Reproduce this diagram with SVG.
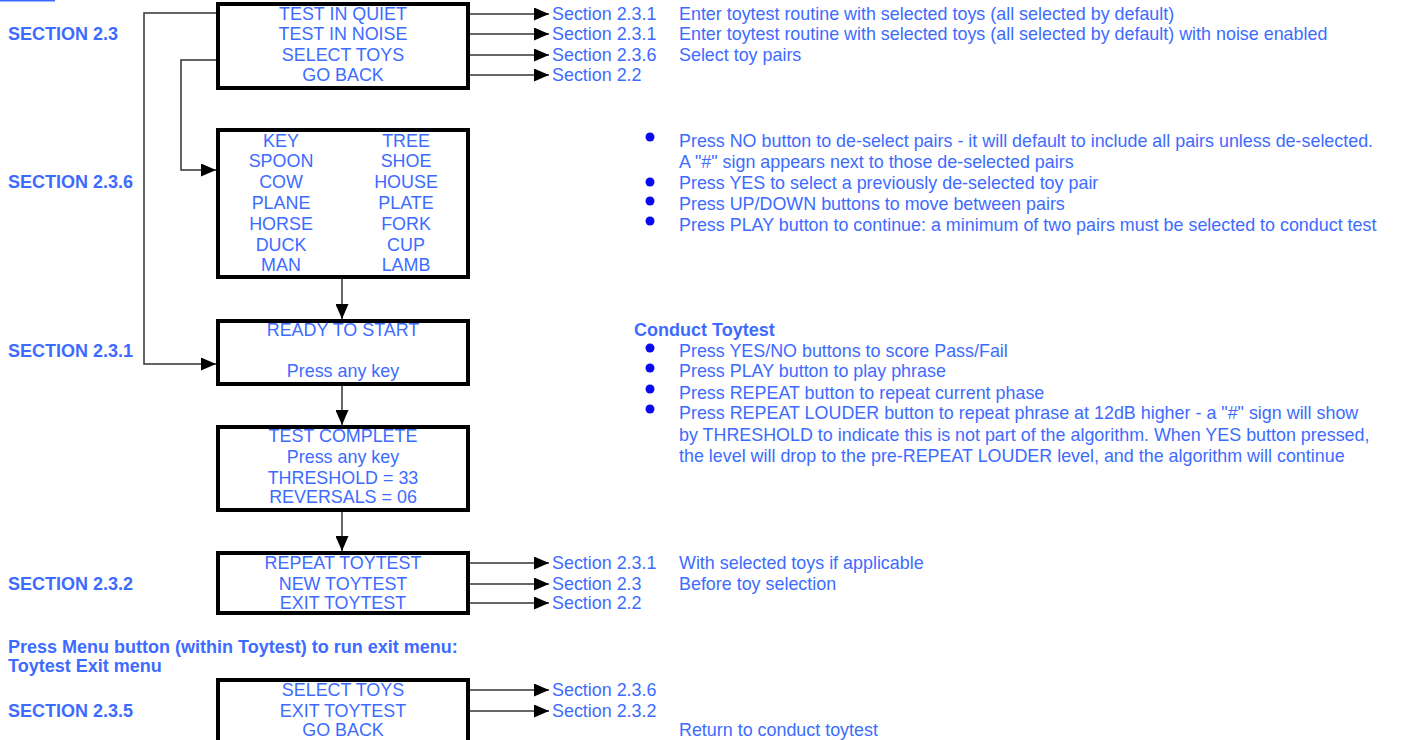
<svg xmlns="http://www.w3.org/2000/svg" width="1402" height="740" viewBox="0 0 1402 740">
<style>
text{font-family:"Liberation Sans",Arial,sans-serif;fill:#3d6bff;font-size:17.9px}
.b{font-weight:bold;font-size:18px}
.c{text-anchor:middle}
.box{fill:#fff;stroke:#000;stroke-width:4}
.ln{fill:none;stroke:#333;stroke-width:1.5}
.dot{fill:#0a0af0}
</style>
<defs>
<marker id="ah" markerUnits="userSpaceOnUse" markerWidth="15" markerHeight="13" refX="15" refY="6.5" orient="auto">
<path d="M0,0 L15,6.5 L0,13 z" fill="#000"/>
</marker>
</defs>
<rect x="0" y="0" width="55" height="1.5" fill="#3d6bff"/>
<g id="connectors">
<path class="ln" d="M217,13 H144 V364 H216" marker-end="url(#ah)"/>
<path class="ln" d="M217,60 H181 V170 H216" marker-end="url(#ah)"/>
<path class="ln" d="M470,14 H549" marker-end="url(#ah)"/>
<path class="ln" d="M470,34 H549" marker-end="url(#ah)"/>
<path class="ln" d="M470,55 H549" marker-end="url(#ah)"/>
<path class="ln" d="M470,75 H549" marker-end="url(#ah)"/>
<path class="ln" d="M342,279 V319" marker-end="url(#ah)"/>
<path class="ln" d="M342,386 V425" marker-end="url(#ah)"/>
<path class="ln" d="M342,512 V551" marker-end="url(#ah)"/>
<path class="ln" d="M470,563 H549" marker-end="url(#ah)"/>
<path class="ln" d="M470,584 H549" marker-end="url(#ah)"/>
<path class="ln" d="M470,603 H549" marker-end="url(#ah)"/>
<path class="ln" d="M470,690 H549" marker-end="url(#ah)"/>
<path class="ln" d="M470,711 H549" marker-end="url(#ah)"/>
</g>
<g id="labels">
<text class="b" x="8" y="40">SECTION 2.3</text>
<text class="b" x="8" y="188">SECTION 2.3.6</text>
<text class="b" x="8" y="357">SECTION 2.3.1</text>
<text class="b" x="8" y="590">SECTION 2.3.2</text>
<text class="b" x="8" y="717">SECTION 2.3.5</text>
<text class="b" x="8" y="653">Press Menu button (within Toytest) to run exit menu:</text>
<text class="b" x="8" y="672">Toytest Exit menu</text>
</g>
<g id="node-main-menu">
<rect class="box" x="218" y="4" width="250" height="84"/>
<text class="c" x="343" y="20">TEST IN QUIET</text>
<text class="c" x="343" y="40">TEST IN NOISE</text>
<text class="c" x="343" y="61">SELECT TOYS</text>
<text class="c" x="343" y="81">GO BACK</text>
</g>
<g id="node-toys">
<rect class="box" x="218" y="130" width="250" height="147"/>
<text class="c" x="281" y="147">KEY</text><text class="c" x="406" y="147">TREE</text>
<text class="c" x="281" y="167">SPOON</text><text class="c" x="406" y="167">SHOE</text>
<text class="c" x="281" y="188">COW</text><text class="c" x="406" y="188">HOUSE</text>
<text class="c" x="281" y="209">PLANE</text><text class="c" x="406" y="209">PLATE</text>
<text class="c" x="281" y="230">HORSE</text><text class="c" x="406" y="230">FORK</text>
<text class="c" x="281" y="251">DUCK</text><text class="c" x="406" y="251">CUP</text>
<text class="c" x="281" y="271">MAN</text><text class="c" x="406" y="271">LAMB</text>
</g>
<g id="node-ready">
<rect class="box" x="218" y="321" width="250" height="63"/>
<text class="c" x="343" y="336">READY TO START</text>
<text class="c" x="343" y="377">Press any key</text>
</g>
<g id="node-complete">
<rect class="box" x="218" y="427" width="250" height="83"/>
<text class="c" x="343" y="442">TEST COMPLETE</text>
<text class="c" x="343" y="463">Press any key</text>
<text class="c" x="343" y="484">THRESHOLD = 33</text>
<text class="c" x="343" y="503">REVERSALS = 06</text>
</g>
<g id="node-repeat-menu">
<rect class="box" x="218" y="553" width="250" height="60"/>
<text class="c" x="343" y="569">REPEAT TOYTEST</text>
<text class="c" x="343" y="590">NEW TOYTEST</text>
<text class="c" x="343" y="609">EXIT TOYTEST</text>
</g>
<g id="node-exit-menu">
<rect class="box" x="218" y="680" width="250" height="70"/>
<text class="c" x="343" y="696">SELECT TOYS</text>
<text class="c" x="343" y="717">EXIT TOYTEST</text>
<text class="c" x="343" y="736">GO BACK</text>
</g>
<g id="targets">
<text x="552" y="20">Section 2.3.1</text><text x="679" y="20">Enter toytest routine with selected toys (all selected by default)</text>
<text x="552" y="40">Section 2.3.1</text><text x="679" y="40">Enter toytest routine with selected toys (all selected by default) with noise enabled</text>
<text x="552" y="61">Section 2.3.6</text><text x="679" y="61">Select toy pairs</text>
<text x="552" y="81">Section 2.2</text>
<text x="552" y="569">Section 2.3.1</text><text x="679" y="569">With selected toys if applicable</text>
<text x="552" y="590">Section 2.3</text><text x="679" y="590">Before toy selection</text>
<text x="552" y="609">Section 2.2</text>
<text x="552" y="696">Section 2.3.6</text>
<text x="552" y="717">Section 2.3.2</text>
<text x="679" y="736">Return to conduct toytest</text>
</g>
<g id="notes-toys">
<circle class="dot" cx="650" cy="137" r="4.5"/>
<circle class="dot" cx="650" cy="182" r="4.5"/>
<circle class="dot" cx="650" cy="201" r="4.5"/>
<circle class="dot" cx="650" cy="221" r="4.5"/>
<text x="679" y="147">Press NO button to de-select pairs - it will default to include all pairs unless de-selected.</text>
<text x="679" y="168">A "#" sign appears next to those de-selected pairs</text>
<text x="679" y="189">Press YES to select a previously de-selected toy pair</text>
<text x="679" y="210">Press UP/DOWN buttons to move between pairs</text>
<text x="679" y="231">Press PLAY button to continue: a minimum of two pairs must be selected to conduct test</text>
</g>
<g id="notes-conduct">
<text class="b" x="634" y="336">Conduct Toytest</text>
<circle class="dot" cx="650" cy="348" r="4.5"/>
<circle class="dot" cx="650" cy="368" r="4.5"/>
<circle class="dot" cx="650" cy="389" r="4.5"/>
<circle class="dot" cx="650" cy="409" r="4.5"/>
<text x="679" y="357">Press YES/NO buttons to score Pass/Fail</text>
<text x="679" y="377">Press PLAY button to play phrase</text>
<text x="679" y="399">Press REPEAT button to repeat current phase</text>
<text x="679" y="419">Press REPEAT LOUDER button to repeat phrase at 12dB higher - a "#" sign will show</text>
<text x="679" y="441">by THRESHOLD to indicate this is not part of the algorithm.  When YES button pressed,</text>
<text x="679" y="462">the level will drop to the pre-REPEAT LOUDER level, and the algorithm will continue</text>
</g>
</svg>
